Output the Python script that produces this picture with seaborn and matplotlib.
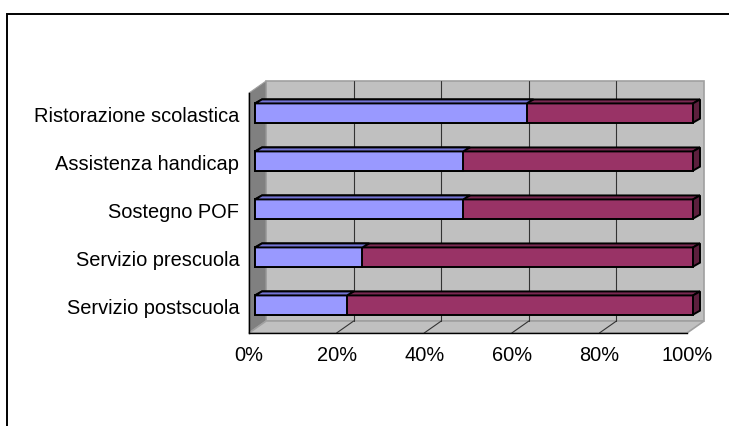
import matplotlib
matplotlib.use("Agg")
import matplotlib.pyplot as plt
from matplotlib.patches import Polygon, Rectangle
import seaborn as sns

# Share of each service split into two groups (percent of 100)
categories = [
    "Ristorazione scolastica",
    "Assistenza handicap",
    "Sostegno POF",
    "Servizio prescuola",
    "Servizio postscuola",
]
series_a = [62.0, 47.5, 47.5, 24.5, 21.0]
series_b = [38.0, 52.5, 52.5, 75.5, 79.0]
x_ticks = [0, 20, 40, 60, 80, 100]
x_tick_labels = ["0%", "20%", "40%", "60%", "80%", "100%"]

BLUE = "#9999ff"
BLUE_TOP = "#7474d6"
MAROON = "#993366"
MAROON_TOP = "#7a2952"
MAROON_SIDE = "#5c1f3d"
WALL = "#c0c0c0"
WALL_SIDE = "#808080"
WALL_EDGE = "#a0a0a0"

# 3D look: depth of the chart box and placement of the bars inside it
DX, DY = 3.9, 0.25          # back wall offset (x in %, y in category units)
BAR_DX, BAR_DY = 1.37, 0.083  # front face of the bars
FACE_DX, FACE_DY = 1.6, 0.083  # thickness of the bars
EDGE_LW = 1.4

sns.set_style("white")
plt.rcParams["font.family"] = ["Liberation Sans", "DejaVu Sans"]

W, H = 729, 426
fig = plt.figure(figsize=(W / 100, H / 100), dpi=100)
fig.patch.set_facecolor("white")

# axes spanning the front plane plus the depth of the box
ax_left, ax_bottom = 249, 93
ax_w = 438 * (100 + DX) / 100
ax_h = 240 * (5 + DY) / 5
ax = fig.add_axes([ax_left / W, ax_bottom / H, ax_w / W, ax_h / H])
ax.set_facecolor("none")

totals = [a + b for a, b in zip(series_a, series_b)]
sns.barplot(x=totals, y=categories, color=MAROON, saturation=1, width=0.4,
            edgecolor="black", linewidth=EDGE_LW, ax=ax, zorder=3)
n = len(ax.patches)
sns.barplot(x=series_a, y=categories, color=BLUE, saturation=1, width=0.4,
            edgecolor="black", linewidth=EDGE_LW, ax=ax, zorder=5)

# walls and floor of the box
back = Polygon([(DX, -0.5 - DY), (100 + DX, -0.5 - DY), (100 + DX, 4.5 - DY), (DX, 4.5 - DY)],
               closed=True, facecolor=WALL, edgecolor=WALL_EDGE, lw=1.2, zorder=0, clip_on=False)
side = Polygon([(0, -0.5), (DX, -0.5 - DY), (DX, 4.5 - DY), (0, 4.5)],
               closed=True, facecolor=WALL_SIDE, edgecolor=WALL_EDGE, lw=0.8, zorder=0.5, clip_on=False)
floor = Polygon([(0, 4.5), (100, 4.5), (100 + DX, 4.5 - DY), (DX, 4.5 - DY)],
                closed=True, facecolor=WALL, edgecolor=WALL_EDGE, lw=1.2, zorder=0.5, clip_on=False)
for p in (back, side, floor):
    ax.add_patch(p)
for t in x_ticks[1:-1]:
    ax.plot([t + DX, t + DX], [-0.5 - DY, 4.5 - DY], color="#333333", lw=0.8, zorder=1)
    ax.plot([t, t + DX], [4.5, 4.5 - DY], color="#333333", lw=0.8, zorder=1)

# move bars into the box and add their top and end faces
for i, p in enumerate(list(ax.patches)):
    if p in (back, side, floor):
        continue
    p.set_x(p.get_x() + BAR_DX)
    p.set_y(p.get_y() - BAR_DY)
    x0, y0 = p.get_x(), p.get_y()
    x1, y1 = x0 + p.get_width(), y0 + p.get_height()
    is_total = i < n
    z = p.get_zorder()
    top = Polygon([(x0, y0), (x1, y0), (x1 + FACE_DX, y0 - FACE_DY), (x0 + FACE_DX, y0 - FACE_DY)],
                  closed=True, facecolor=MAROON_TOP if is_total else BLUE_TOP,
                  edgecolor="black", lw=EDGE_LW, zorder=z, joinstyle="miter")
    ax.add_patch(top)
    if is_total:
        end = Polygon([(x1, y0), (x1 + FACE_DX, y0 - FACE_DY), (x1 + FACE_DX, y1 - FACE_DY), (x1, y1)],
                      closed=True, facecolor=MAROON_SIDE, edgecolor="black", lw=EDGE_LW, zorder=z)
        ax.add_patch(end)

ax.set_xlim(0, 100 + DX)
ax.set_ylim(4.5, -0.5 - DY)

for s in ("top", "right"):
    ax.spines[s].set_visible(False)
ax.spines["left"].set_bounds(-0.5, 4.5)
ax.spines["bottom"].set_bounds(0, 100)
for s in ("left", "bottom"):
    ax.spines[s].set_color("black")
    ax.spines[s].set_linewidth(1.0)
    ax.spines[s].set_zorder(2)

ax.set_xticks(x_ticks)
ax.set_xticklabels(x_tick_labels)
ax.set_yticks(range(len(categories)))
ax.set_yticklabels(categories)
ax.set_yticks([i - 0.5 for i in range(len(categories) + 1)], minor=True)
ax.tick_params(axis="x", direction="out", length=3.6, width=1.0, color="black",
               labelsize=14.4, pad=6, labelcolor="black")
ax.tick_params(axis="y", which="major", length=0, pad=7, labelsize=14.4, labelcolor="black")
ax.tick_params(axis="y", which="minor", direction="out", length=3.6, width=1.0, color="black")
ax.set_xlabel("")
ax.set_ylabel("")
for lab in ax.get_yticklabels():
    lab.set_va("center")

# frame around the chart area
fig.add_artist(Rectangle((7 / W, -0.2), 1.5, (H - 14) / H + 0.2, transform=fig.transFigure,
                         fill=False, edgecolor="black", lw=1.4))

fig.savefig("out.png", dpi=100)
